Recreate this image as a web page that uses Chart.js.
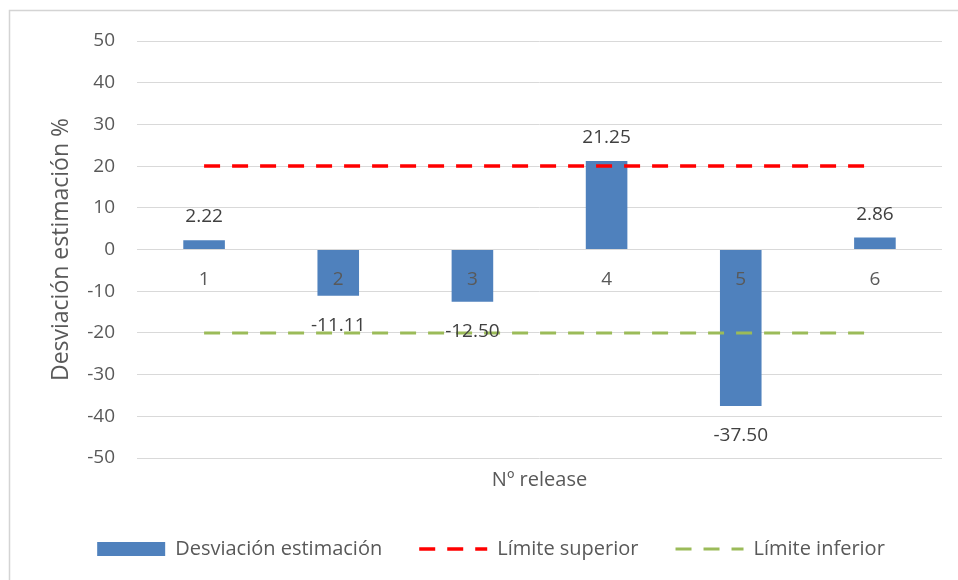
<!DOCTYPE html>
<html>
<head>
<meta charset="utf-8">
<title>Desviación estimación por release</title>
<script src="https://cdn.jsdelivr.net/npm/chart.js@4/dist/chart.umd.min.js"></script>
<style>
  html, body { margin: 0; padding: 0; background: #ffffff; }
  #wrap { width: 958px; height: 580px; }
</style>
</head>
<body>
<div id="wrap"><canvas id="desviacionChart" width="958" height="580"></canvas></div>
<script>
// releases y desviaciones (%)
const releases = ['1', '2', '3', '4', '5', '6'];
const desviacion = [2.22, -11.11, -12.50, 21.25, -37.50, 2.86];
const limiteSuperior = [20, 20, 20, 20, 20, 20];
const limiteInferior = [-20, -20, -20, -20, -20, -20];

const FONT = "'Open Sans', 'Noto Sans', sans-serif";
const GRIS_TEXTO = '#595959';
const GRIS_GRID = '#d9d9d9';

// marco exterior del gráfico
const marcoPlugin = {
    id: 'marco',
    beforeDraw(chart) {
        const ctx = chart.ctx;
        ctx.save();
        ctx.strokeStyle = '#d4d4d4';
        ctx.lineWidth = 1.5;
        ctx.beginPath();
        ctx.moveTo(9.5, chart.height);
        ctx.lineTo(9.5, 10.5);
        ctx.lineTo(chart.width, 10.5);
        ctx.stroke();
        ctx.restore();
    }
};

// etiquetas de valor en cada barra
const etiquetasPlugin = {
    id: 'etiquetas',
    afterDatasetsDraw(chart) {
        const ctx = chart.ctx;
        const meta = chart.getDatasetMeta(0);
        const valores = chart.data.datasets[0].data;
        ctx.save();
        ctx.font = '19px ' + FONT;
        ctx.fillStyle = '#404040';
        ctx.textAlign = 'center';
        ctx.textBaseline = 'alphabetic';
        meta.data.forEach((bar, i) => {
            const v = valores[i];
            const y = v >= 0 ? bar.y - 18 : bar.y + 35;
            ctx.fillText(v.toFixed(2), bar.x, y);
        });
        ctx.restore();
    }
};

const ctx = document.getElementById('desviacionChart');

new Chart(ctx, {
    data: {
        labels: releases,
        datasets: [
            {
                type: 'bar',
                label: 'Desviación estimación',
                data: desviacion,
                backgroundColor: '#4f81bd',
                borderWidth: 0,
                categoryPercentage: 1,
                barPercentage: 0.31,
                order: 2
            },
            {
                type: 'line',
                label: 'Límite superior',
                data: limiteSuperior,
                borderColor: '#ff0000',
                borderWidth: 3.5,
                borderDash: [16, 12],
                pointRadius: 0,
                fill: false,
                order: 1
            },
            {
                type: 'line',
                label: 'Límite inferior',
                data: limiteInferior,
                borderColor: '#9bbb59',
                borderWidth: 3,
                borderDash: [16, 12],
                pointRadius: 0,
                fill: false,
                order: 1
            }
        ]
    },
    options: {
        responsive: false,
        animation: false,
        events: [],
        layout: {
            padding: { left: 40, right: 16, top: 41, bottom: 11 }
        },
        scales: {
            x: {
                type: 'category',
                position: { y: 0 },
                offset: true,
                grid: { display: false },
                border: { display: false },
                ticks: {
                    z: 1,  // números de release por encima de las barras
                    color: GRIS_TEXTO,
                    font: { family: FONT, size: 19 },
                    padding: 11
                }
            },
            x2: {
                type: 'category',
                position: 'bottom',
                offset: true,
                grid: { display: false, drawTicks: false },
                border: { display: false },
                ticks: { display: false },
                title: {
                    display: true,
                    text: 'Nº release',
                    color: GRIS_TEXTO,
                    font: { family: FONT, size: 20 },
                    padding: { top: 10, bottom: 10 }
                }
            },
            y: {
                min: -50,
                max: 50,
                afterFit(scale) { scale.width = 97; },
                grid: { color: GRIS_GRID, lineWidth: 1, drawTicks: false },
                border: { display: false },
                ticks: {
                    stepSize: 10,
                    color: GRIS_TEXTO,
                    font: { family: FONT, size: 19 },
                    padding: 22
                },
                title: {
                    display: true,
                    text: 'Desviación estimación %',
                    color: GRIS_TEXTO,
                    font: { family: FONT, size: 23 },
                    padding: { top: 8, bottom: 0 }
                }
            }
        },
        plugins: {
            tooltip: { enabled: false },
            legend: {
                position: 'bottom',
                labels: {
                    usePointStyle: true,
                    pointStyleWidth: 68,
                    boxHeight: 14,
                    padding: 37,
                    color: GRIS_TEXTO,
                    font: { family: FONT, size: 20 },
                    generateLabels(chart) {
                        const items = Chart.defaults.plugins.legend.labels.generateLabels(chart);
                        items.forEach(item => {
                            const ds = chart.data.datasets[item.datasetIndex];
                            if (ds.type === 'line') {
                                item.pointStyle = 'line';
                                item.strokeStyle = ds.borderColor;
                                item.lineWidth = ds.borderWidth;
                                item.lineDash = ds.borderDash;
                            } else {
                                item.pointStyle = 'rect';
                                item.lineWidth = 0;
                            }
                        });
                        return items.sort((a, b) => a.datasetIndex - b.datasetIndex);
                    }
                }
            }
        }
    },
    plugins: [marcoPlugin, etiquetasPlugin]
});
</script>
</body>
</html>
